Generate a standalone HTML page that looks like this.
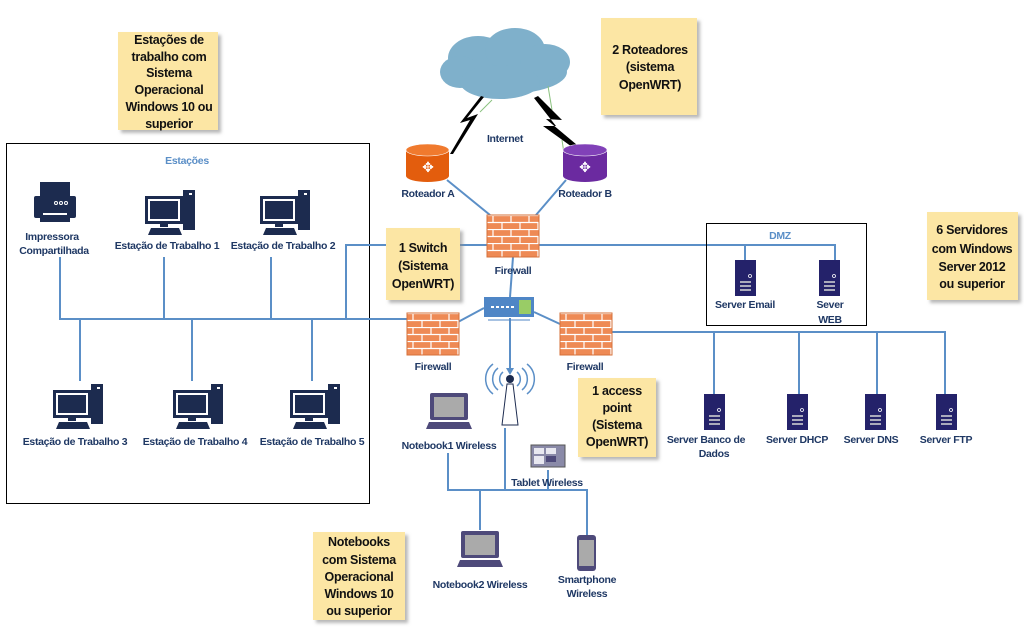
<!DOCTYPE html>
<html><head><meta charset="utf-8"><style>
body{margin:0;background:#fff;width:1024px;height:632px;overflow:hidden}
svg{display:block}
.l{font-family:"Liberation Sans",sans-serif;font-weight:bold;font-size:10.5px;letter-spacing:-0.3px;fill:#1f3864;text-anchor:middle}
.n{font-family:"Liberation Sans",sans-serif;font-weight:bold;font-size:12.5px;letter-spacing:-0.3px;fill:#111;text-anchor:middle}
.ln{stroke:#5b8fc7;stroke-width:2;fill:none}
</style></head><body>
<svg width="1024" height="632" viewBox="0 0 1024 632" xmlns="http://www.w3.org/2000/svg">
<defs>
<filter id="sh" x="-10%" y="-10%" width="130%" height="130%"><feDropShadow dx="3" dy="3" stdDeviation="1.5" flood-color="#888" flood-opacity="0.6"/></filter>
<pattern id="brick" width="18" height="14" patternUnits="userSpaceOnUse">
<rect width="18" height="14" fill="#ee8a55"/>
<path d="M0 0.5H18M0 7.5H18M6 0V7M15 7V14" stroke="#fff" stroke-width="1.2"/>
</pattern>
<g id="pc">
<rect x="0" y="0" width="38" height="28" fill="#1c2b4f"/>
<rect x="3" y="3" width="32" height="22" fill="#fff"/>
<rect x="5" y="5" width="28" height="18" fill="#1c2b4f"/>
<rect x="38" y="-6" width="12" height="40" fill="#1c2b4f"/>
<rect x="44" y="-3" width="3" height="2" fill="#fff"/>
<rect x="15" y="28" width="8" height="3" fill="#1c2b4f"/>
<polygon points="3,39 37,39 34,32 6,32" fill="#1c2b4f"/>
</g>
<g id="srv">
<rect x="0" y="0" width="21" height="36" fill="#24226a"/>
<circle cx="15" cy="16" r="1.5" fill="none" stroke="#fff" stroke-width="0.8"/>
<rect x="5" y="21" width="11" height="2" fill="#aab"/>
<rect x="5" y="25" width="11" height="2" fill="#aab"/>
<rect x="5" y="29" width="11" height="2" fill="#aab"/>
</g>
<g id="nb">
<rect x="4" y="0" width="38" height="27" rx="2" fill="#4e4a7a"/>
<rect x="8" y="4" width="30" height="20" fill="#aaa"/>
<polygon points="0,36 46,36 43,29 3,29" fill="#4e4a7a"/>
</g>
<g id="fw"><rect width="52" height="42" fill="url(#brick)" stroke="#d6703a" stroke-width="1"/></g>
</defs>

<rect x="6.5" y="143.5" width="363" height="360" fill="none" stroke="#000" stroke-width="1"/>
<text x="187" y="164" class="l" style="fill:#5b8fc7">Estações</text>

<g class="ln">
<path d="M60 257V319H410"/>
<path d="M164 257V319M271 257V319"/>
<path d="M80 319V381M192 319V381M312 319V381"/>
<path d="M346 319V245H835V260M745 245V260"/>
<path d="M447 180L490 215M566 180L536 215"/>
<path d="M513 257L510 297"/>
<path d="M484 308L458 322M534 312L560 324"/>
<path d="M510 318V372"/>
<path d="M610 332H945V395M714 332V395M799 332V395M877 332V395"/>
<path d="M505 428V490M448 453V490H587V535M548 470V490M480 490V530"/>
</g>
<polygon points="506,368 514,368 510,375" fill="#5b8fc7"/>

<g fill="#1c2b4f">
<rect x="40" y="182" width="30" height="14"/>
<rect x="34" y="196" width="42" height="22" rx="2"/>
<rect x="40" y="210" width="30" height="12"/>
</g>
<rect x="43" y="213" width="24" height="2" fill="#fff"/>
<circle cx="56" cy="203" r="1.5" fill="none" stroke="#fff"/><circle cx="61" cy="203" r="1.5" fill="none" stroke="#fff"/><circle cx="66" cy="203" r="1.5" fill="none" stroke="#fff"/>
<text x="52" y="240" class="l">Impressora</text>
<text x="54" y="254" class="l">Compartilhada</text>

<use href="#pc" x="145" y="196"/>
<text x="167" y="249" class="l">Estação de Trabalho 1</text>
<use href="#pc" x="260" y="196"/>
<text x="283" y="249" class="l">Estação de Trabalho 2</text>
<use href="#pc" x="53" y="390"/>
<text x="75" y="445" class="l">Estação de Trabalho 3</text>
<use href="#pc" x="173" y="390"/>
<text x="195" y="445" class="l">Estação de Trabalho 4</text>
<use href="#pc" x="290" y="390"/>
<text x="312" y="445" class="l">Estação de Trabalho 5</text>

<g fill="#7fb0cb">
<ellipse cx="505" cy="72" rx="62" ry="22"/>
<ellipse cx="478" cy="58" rx="30" ry="22"/>
<ellipse cx="515" cy="50" rx="30" ry="22"/>
<ellipse cx="545" cy="62" rx="25" ry="18"/>
<ellipse cx="460" cy="72" rx="20" ry="16"/>
<ellipse cx="500" cy="82" rx="40" ry="17"/>
</g>
<path d="M492 100L480 112M548 86L552 110M562 140L565 160" stroke="#8bc27f" stroke-width="1"/>
<polygon points="481,96 460,123 470,120 450,154 453,154 478,114 467,118 484,97" fill="#000"/>
<polygon points="538,96 562,120 546,119 583,150 579,152 543,126 556,126 534,98" fill="#000"/>
<text x="505" y="142" class="l">Internet</text>

<g>
<path d="M406 150V176A21.5 6 0 0 0 449 176V150Z" fill="#e35d0d"/>
<ellipse cx="427.5" cy="150" rx="21.5" ry="6" fill="#f07a2e" stroke="#fff" stroke-width="0.6"/>
<text x="428" y="172" style="font-size:14px;fill:#fff;text-anchor:middle;font-family:'DejaVu Sans',sans-serif">✥</text>
<path d="M563 150V176A22 6 0 0 0 607 176V150Z" fill="#6b2aa0"/>
<ellipse cx="585" cy="150" rx="22" ry="6" fill="#8141b8" stroke="#fff" stroke-width="0.6"/>
<text x="585" y="172" style="font-size:14px;fill:#fff;text-anchor:middle;font-family:'DejaVu Sans',sans-serif">✥</text>
</g>
<text x="428" y="197" class="l">Roteador A</text>
<text x="585" y="197" class="l">Roteador B</text>

<use href="#fw" x="487" y="215"/>
<text x="513" y="274" class="l">Firewall</text>
<use href="#fw" x="407" y="313"/>
<text x="433" y="370" class="l">Firewall</text>
<use href="#fw" x="560" y="313"/>
<text x="585" y="370" class="l">Firewall</text>

<rect x="484" y="297" width="50" height="20" fill="#4f86c6"/>
<rect x="519" y="300" width="12" height="14" fill="#9c6"/>
<path d="M491 307H514" stroke="#fff" stroke-width="2" stroke-dasharray="3 2"/>
<path d="M488 320H530" stroke="#4f86c6" stroke-width="1"/>

<g fill="none" stroke="#5b8fc7" stroke-width="1.5">
<path d="M503 372A9 9 0 0 0 503 386M517 372A9 9 0 0 1 517 386"/>
<path d="M498 368A14 14 0 0 0 498 390M522 368A14 14 0 0 1 522 390"/>
<path d="M493 364A19 19 0 0 0 493 394M527 364A19 19 0 0 1 527 394"/>
</g>
<circle cx="510" cy="379" r="4" fill="#1c2b4f"/>
<polygon points="507,384 513,384 518,425 502,425" fill="#fff" stroke="#1c2b4f" stroke-width="1"/>

<use href="#nb" x="426" y="393"/>
<text x="449" y="449" class="l">Notebook1 Wireless</text>
<rect x="531" y="445" width="34" height="22" fill="#8a8aa8" stroke="#555" stroke-width="1"/>
<rect x="534" y="448" width="10" height="6" fill="#e8e8f0"/><rect x="546" y="448" width="10" height="6" fill="#e8e8f0"/><rect x="534" y="456" width="10" height="8" fill="#e8e8f0"/><rect x="546" y="456" width="10" height="6" fill="#4e4a7a"/>
<text x="547" y="486" class="l">Tablet Wireless</text>
<use href="#nb" x="457" y="531"/>
<text x="480" y="588" class="l">Notebook2 Wireless</text>
<rect x="577" y="535" width="19" height="36" rx="3" fill="#4e4a7a"/>
<rect x="579" y="540" width="15" height="26" fill="#aaa"/>
<text x="587" y="583" class="l">Smartphone</text>
<text x="587" y="597" class="l">Wireless</text>

<rect x="706.5" y="223.5" width="160" height="102" fill="none" stroke="#000" stroke-width="1"/>
<text x="780" y="239" class="l" style="fill:#5b8fc7">DMZ</text>
<use href="#srv" x="735" y="260"/>
<text x="745" y="308" class="l">Server Email</text>
<use href="#srv" x="819" y="260"/>
<text x="830" y="308" class="l">Sever</text>
<text x="830" y="323" class="l">WEB</text>

<use href="#srv" x="704" y="394"/>
<text x="706" y="443" class="l">Server Banco de</text>
<text x="714" y="457" class="l">Dados</text>
<use href="#srv" x="787" y="394"/>
<text x="797" y="443" class="l">Server DHCP</text>
<use href="#srv" x="865" y="394"/>
<text x="871" y="443" class="l">Server DNS</text>
<use href="#srv" x="936" y="394"/>
<text x="946" y="443" class="l">Server FTP</text>

<g filter="url(#sh)" fill="#fce6a4">
<rect x="118" y="32" width="100" height="98"/>
<rect x="601" y="18" width="96" height="97"/>
<rect x="386" y="228" width="74" height="72"/>
<rect x="578" y="378" width="78" height="79"/>
<rect x="927" y="212" width="91" height="88"/>
<rect x="313" y="532" width="92" height="88"/>
</g>
<text class="n"><tspan x="169" y="44">Estações de</tspan><tspan x="169" y="61">trabalho com</tspan><tspan x="169" y="77">Sistema</tspan><tspan x="169" y="94">Operacional</tspan><tspan x="169" y="111">Windows 10 ou</tspan><tspan x="169" y="128">superior</tspan></text>
<text class="n"><tspan x="650" y="54">2 Roteadores</tspan><tspan x="650" y="71">(sistema</tspan><tspan x="650" y="89">OpenWRT)</tspan></text>
<text class="n"><tspan x="423" y="252">1 Switch</tspan><tspan x="423" y="270">(Sistema</tspan><tspan x="423" y="288">OpenWRT)</tspan></text>
<text class="n"><tspan x="617" y="395">1 access</tspan><tspan x="617" y="412">point</tspan><tspan x="617" y="429">(Sistema</tspan><tspan x="617" y="446">OpenWRT)</tspan></text>
<text class="n"><tspan x="972" y="234">6 Servidores</tspan><tspan x="972" y="253">com Windows</tspan><tspan x="972" y="271">Server 2012</tspan><tspan x="972" y="288">ou superior</tspan></text>
<text class="n"><tspan x="359" y="546">Notebooks</tspan><tspan x="359" y="564">com Sistema</tspan><tspan x="359" y="581">Operacional</tspan><tspan x="359" y="598">Windows 10</tspan><tspan x="359" y="615">ou superior</tspan></text>
</svg>
</body></html>
